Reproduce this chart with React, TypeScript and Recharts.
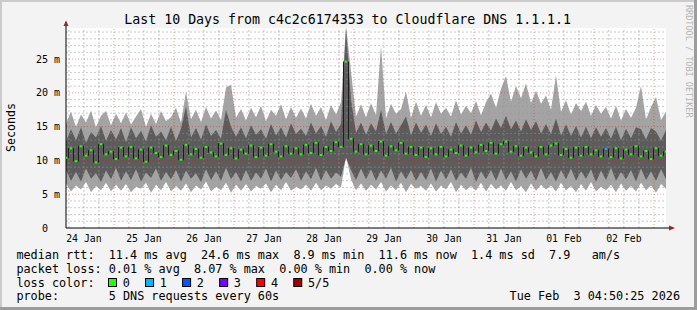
import React from 'react';
import {
  ComposedChart,
  Area,
  Line,
  XAxis,
  YAxis,
  ReferenceLine,
  CartesianGrid,
} from 'recharts';

const MONO = '"DejaVu Sans Mono", monospace';

// hours since Sat Jan 24 04:50:25, one sample every 2 hours
const STEP_HOURS = 2;
const FIRST_MIDNIGHT = -4.84; // Jan 24 00:00 relative to start

const dayLabels = ['24 Jan', '25 Jan', '26 Jan', '27 Jan', '28 Jan', '29 Jan', '30 Jan', '31 Jan', '01 Feb', '02 Feb'];
const yTicks = [0, 5, 10, 15, 20, 25];

// smoke: lightest band = min..max, darker band = 2nd..4th ping (ms)
const rttMax = [
  15.4, 17.2, 15.0, 16.8, 15.6, 17.4, 14.9, 16.6, 17.3, 15.2, 16.9, 15.5,
  17.1, 15.3, 16.5, 17.6, 15.0, 16.9, 15.4, 17.3, 15.8, 16.4, 17.8, 15.6,
  20.2, 16.1, 17.5, 15.7, 17.9, 16.2, 17.4, 16.0, 20.8, 21.2, 16.3, 17.6,
  15.9, 17.8, 16.4, 18.1, 15.8, 17.5, 16.6, 18.3, 16.1, 17.9, 16.3, 17.7,
  16.2, 18.4, 16.6, 17.9, 16.0, 18.2, 16.8, 18.6, 30.0, 23.2, 16.5, 18.3,
  16.4, 18.5, 16.7, 27.0, 16.2, 18.4, 16.9, 17.6, 20.2, 16.3, 18.7, 16.6,
  18.2, 16.4, 18.6, 16.9, 17.8, 16.5, 18.9, 16.8, 18.1, 17.0, 18.8, 16.7,
  18.6, 19.9, 17.8, 20.6, 22.5, 18.7, 21.0, 19.2, 21.4, 18.5, 20.3, 18.4,
  19.6, 17.5, 22.6, 17.2, 18.9, 16.8, 18.5, 17.3, 18.7, 16.6, 18.2, 16.9,
  17.9, 16.2, 18.1, 15.9, 17.6, 16.3, 17.8, 21.0, 16.1, 17.9, 19.4, 16.0, 17.2,
];
const rttDarkHigh = [
  12.8, 14.6, 13.0, 14.9, 12.6, 14.2, 13.4, 15.1, 12.9, 14.5, 13.1, 14.8,
  12.7, 14.9, 13.3, 14.4, 12.8, 15.2, 13.5, 14.3, 13.0, 15.0, 12.9, 14.7,
  18.0, 13.4, 14.8, 13.1, 15.3, 13.6, 14.5, 13.2, 17.5, 15.0, 13.5, 14.9,
  13.3, 15.2, 13.8, 14.6, 13.2, 15.4, 13.7, 14.9, 13.4, 15.5, 13.9, 14.7,
  13.6, 15.6, 14.0, 15.1, 13.5, 15.8, 14.2, 15.4, 29.5, 19.0, 14.1, 15.6,
  13.8, 15.5, 14.3, 17.5, 13.9, 15.7, 14.0, 15.2, 16.5, 13.7, 15.6, 14.1,
  15.3, 13.6, 15.5, 13.9, 15.0, 13.5, 15.7, 14.0, 15.2, 13.8, 15.9, 14.2,
  15.6, 14.4, 16.2, 14.8, 16.6, 14.6, 15.9, 14.3, 16.1, 14.5, 15.8, 14.0,
  15.4, 13.9, 16.2, 13.7, 15.3, 13.6, 15.1, 13.4, 15.0, 13.3, 14.9, 13.5,
  14.8, 13.2, 15.0, 13.0, 14.7, 13.3, 14.9, 14.6, 13.1, 14.8, 14.3, 12.9, 14.5,
];
const rttDarkLow = [
  8.6, 7.0, 8.3, 6.9, 8.8, 7.3, 8.1, 6.8, 8.5, 7.2, 8.9, 7.0,
  8.4, 7.1, 8.7, 6.9, 8.2, 7.4, 8.8, 7.0, 8.3, 7.2, 8.6, 6.9,
  8.5, 7.3, 8.1, 6.8, 8.7, 7.1, 8.4, 7.0, 8.9, 7.2, 8.3, 6.9,
  8.6, 7.0, 8.2, 7.3, 8.8, 6.9, 8.5, 7.1, 8.3, 7.4, 8.7, 7.0,
  8.4, 7.2, 8.9, 7.0, 8.6, 7.3, 8.2, 7.6, 10.4, 8.6, 7.1, 8.8,
  7.2, 8.7, 7.0, 8.5, 7.3, 8.9, 6.9, 8.4, 7.2, 8.6, 7.0, 8.3,
  7.1, 8.8, 6.9, 8.5, 7.2, 8.7, 7.0, 8.2, 7.3, 8.9, 6.8, 8.4,
  7.2, 8.6, 7.0, 8.8, 7.1, 8.4, 6.9, 8.7, 7.3, 8.5, 7.0, 8.9,
  7.1, 8.3, 6.9, 8.6, 7.2, 8.8, 7.0, 8.4, 7.3, 8.7, 6.8, 8.5,
  7.1, 8.9, 7.0, 8.3, 7.2, 8.6, 6.9, 8.8, 7.1, 8.4, 7.0, 8.7, 7.2,
];
const rttMin = [
  6.6, 5.4, 6.3, 5.7, 6.8, 5.3, 6.2, 5.6, 6.7, 5.4, 6.4, 5.5,
  6.5, 5.3, 6.1, 5.8, 6.7, 5.2, 6.4, 5.6, 6.8, 5.4, 6.2, 5.5,
  6.6, 5.3, 6.3, 5.7, 6.9, 5.4, 6.1, 5.6, 6.7, 5.2, 6.4, 5.5,
  6.5, 5.4, 6.2, 5.8, 6.6, 5.3, 6.4, 5.6, 6.8, 5.5, 6.1, 5.7,
  6.4, 5.5, 6.7, 5.6, 6.3, 5.8, 6.5, 6.0, 10.6, 7.2, 5.6, 6.6,
  5.5, 6.4, 5.7, 6.8, 5.4, 6.3, 5.6, 6.7, 5.3, 6.5, 5.8, 6.2,
  5.5, 6.6, 5.4, 6.3, 5.7, 6.8, 5.3, 6.4, 5.6, 6.2, 5.5, 6.7,
  5.4, 6.5, 5.7, 6.3, 5.5, 6.8, 5.6, 6.2, 5.3, 6.6, 5.5, 6.4,
  5.7, 6.3, 5.4, 6.7, 5.6, 6.2, 5.3, 6.5, 5.5, 6.8, 5.4, 6.1,
  5.6, 6.4, 5.3, 6.6, 5.5, 6.2, 5.4, 6.7, 5.6, 6.3, 5.2, 6.5, 5.8,
];
const rttMedian = [
  10.4, 11.8, 9.9, 12.1, 10.7, 11.5, 9.7, 12.4, 10.9, 11.3, 10.2, 11.9,
  10.6, 12.0, 10.3, 11.6, 9.8, 11.9, 11.1, 10.5, 12.2, 10.8, 11.4, 10.1,
  12.3, 10.9, 11.7, 10.4, 12.0, 11.2, 10.6, 12.5, 10.8, 11.8, 10.3, 11.6,
  11.0, 12.2, 10.5, 11.9, 10.7, 12.4, 11.3, 10.6, 12.1, 11.0, 11.8, 10.9,
  12.3, 11.1, 12.6, 10.8, 12.0, 11.4, 12.7, 12.0, 24.6, 13.2, 11.3, 12.4,
  10.9, 12.2, 11.4, 12.8, 10.7, 12.1, 11.5, 12.6, 11.0, 12.0, 10.8, 11.9,
  10.5, 11.8, 10.9, 12.0, 10.6, 11.6, 11.1, 12.2, 10.7, 11.9, 11.2, 12.3,
  11.4, 12.6, 11.0, 12.4, 12.8, 11.3, 12.1, 10.7, 11.9, 11.2, 10.6, 12.0,
  10.9, 12.2, 12.5, 10.8, 11.7, 10.4, 11.9, 10.7, 12.0, 10.9, 11.5, 10.6,
  11.7, 10.5, 11.8, 10.3, 11.6, 10.9, 12.1, 10.6, 11.4, 10.2, 11.8, 10.7, 11.3,
];
const lossEvents = [{ index: 108, loss: 1 }];

const lossColors = ['#26ff00', '#00b8ff', '#0059ff', '#7e00ff', '#ff0000', '#a10000'];
const lossLabels = ['0', '1', '2', '3', '4', '5/5'];

const legendLines = [
  { y: 258.5, text: 'median rtt:  11.4 ms avg  24.6 ms max  8.9 ms min  11.6 ms now  1.4 ms sd  7.9   am/s' },
  { y: 272.5, text: 'packet loss: 0.01 % avg  8.07 % max  0.00 % min  0.00 % now' },
  { y: 286.5, text: 'loss color:' },
  { y: 300, text: 'probe:       5 DNS requests every 60s' },
];
const stamp = 'Tue Feb  3 04:50:25 2026';

const data = rttMedian.map((m, i) => ({
  h: i * STEP_HOURS,
  light: [rttMin[i], rttMax[i]],
  dark: [rttDarkLow[i], rttDarkHigh[i]],
  median: m,
  loss: lossEvents.find((e) => e.index === i)?.loss ?? 0,
}));

const labelTicks = dayLabels.map((_, k) => FIRST_MIDNIGHT + 12 + 24 * k);
const minorX: number[] = [];
const majorX: number[] = [];
for (let h = FIRST_MIDNIGHT; h <= 240; h += 6) {
  if (h < 0) continue;
  if (Math.abs((h - FIRST_MIDNIGHT) % 24) < 0.01) majorX.push(h);
  else minorX.push(h);
}
const minorY: number[] = [];
for (let v = 1; v < 30; v++) if (v % 5 !== 0) minorY.push(v);
const majorY = [5, 10, 15, 20, 25];

const XTick = (props: any) => {
  const { x, payload } = props;
  const k = Math.round((payload.value - FIRST_MIDNIGHT - 12) / 24);
  return (
    <text x={x} y={241.5} textAnchor="middle" fontFamily={MONO} fontSize={9.8} fill="#000">
      {dayLabels[k]}
    </text>
  );
};

const YTick = (props: any) => {
  const { y, payload } = props;
  const v = payload.value;
  return (
    <text x={60} y={y + 3.6} textAnchor="end" fontFamily={MONO} fontSize={10} fill="#000">
      {v === 0 ? '0\u00a0\u00a0' : `${v} m`}
    </text>
  );
};

const renderDot = (p: any) => {
  if (p.cx == null || p.cy == null) return <g key={p.index} />;
  return <rect key={p.index} x={p.cx - 1.5} y={p.cy - 1} width={3} height={2} fill={lossColors[p.payload.loss]} />;
};

export default function App() {
  return (
    <div style={{ position: 'absolute', left: 0, top: 0, width: 697, height: 310, background: '#f3f3f3', overflow: 'hidden' }}>
      <svg width={697} height={310} style={{ position: 'absolute', left: 0, top: 0 }}>
        <rect x={0} y={0} width={697} height={2} fill="#cbcbcb" />
        <rect x={0} y={0} width={2} height={310} fill="#cbcbcb" />
        <rect x={0} y={307} width={697} height={3} fill="#9c9c9c" />
        <rect x={694} y={0} width={3} height={310} fill="#9c9c9c" />
      </svg>
      <div style={{ position: 'absolute', left: 0, top: 0 }}>
        <ComposedChart width={697} height={310} data={data} margin={{ top: 28, right: 31, bottom: 62, left: 6 }}>
          <CartesianGrid horizontal={false} vertical={false} fill="#ffffff" />
          <XAxis
            type="number"
            dataKey="h"
            domain={[0, 240]}
            ticks={labelTicks}
            interval={0}
            tick={<XTick />}
            tickLine={false}
            axisLine={{ stroke: '#000' }}
            height={20}
            allowDataOverflow
          />
          <YAxis
            type="number"
            domain={[0, 29.6]}
            ticks={yTicks}
            interval={0}
            tick={<YTick />}
            tickLine={false}
            axisLine={{ stroke: '#000' }}
            width={60}
            allowDataOverflow
          />
          <Area type="linear" dataKey="light" stroke="none" fill="#a4a4a4" fillOpacity={1} isAnimationActive={false} />
          <Area type="linear" dataKey="dark" stroke="none" fill="#5c5c5c" fillOpacity={1} isAnimationActive={false} />
          {minorY.map((v) => (
            <ReferenceLine key={`my${v}`} y={v} stroke="rgba(150,150,150,0.5)" strokeDasharray="2 2" />
          ))}
          {minorX.map((v) => (
            <ReferenceLine key={`mx${v}`} x={v} stroke="rgba(150,150,150,0.55)" strokeDasharray="2 2" />
          ))}
          {majorY.map((v) => (
            <ReferenceLine key={`My${v}`} y={v} stroke="rgba(255,0,0,0.4)" strokeDasharray="1 2" />
          ))}
          {majorX.map((v) => (
            <ReferenceLine key={`Mx${v}`} x={v} stroke="rgba(255,0,0,0.4)" strokeDasharray="1 2" />
          ))}
          <Line
            type="step"
            dataKey="median"
            stroke="#1c1c1c"
            strokeWidth={1}
            dot={renderDot}
            activeDot={false}
            isAnimationActive={false}
          />
        </ComposedChart>
      </div>
      <svg width={697} height={310} style={{ position: 'absolute', left: 0, top: 0 }} fontFamily={MONO}>
        <line x1={66} y1={22} x2={66} y2={28} stroke="#000" />
        <path d="M63.5,26 L66,20.5 L68.5,26 Z" fill="#992222" />
        <line x1={666} y1={228} x2={670} y2={228} stroke="#000" />
        <path d="M669,225.5 L675,228 L669,230.5 Z" fill="#992222" />
        <text x={347.7} y={24} textAnchor="middle" fontSize={13.25} fill="#000">
          Last 10 Days from c4c2c6174353 to Cloudflare DNS 1.1.1.1
        </text>
        <text transform="translate(15,127.5) rotate(-90)" textAnchor="middle" fontSize={11.6} fill="#000">
          Seconds
        </text>
        <text transform="translate(685.5,5) rotate(90)" fontSize={8.5} fill="#b4b4b4">
          RRDTOOL / TOBI OETIKER
        </text>
        {legendLines.map((l) => (
          <text key={l.y} x={16.4} y={l.y} fontSize={11.8} fill="#000" style={{ whiteSpace: 'pre' }}>
            {l.text}
          </text>
        ))}
        {lossColors.map((c, k) => (
          <g key={c}>
            <rect x={108.5 + 37.05 * k} y={278.5} width={8} height={8} fill={c} stroke="#000" strokeWidth={1} />
            <text x={122.7 + 37.05 * k} y={286.5} fontSize={11.8} fill="#000">
              {lossLabels[k]}
            </text>
          </g>
        ))}
        <text x={680} y={300} textAnchor="end" fontSize={11.8} fill="#000" style={{ whiteSpace: 'pre' }}>
          {stamp}
        </text>
      </svg>
    </div>
  );
}
